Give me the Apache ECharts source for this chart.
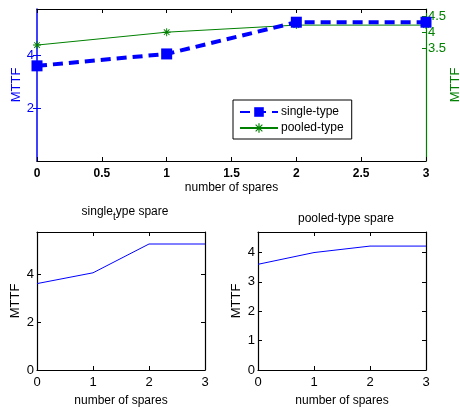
<!DOCTYPE html>
<html>
<head>
<meta charset="utf-8">
<script src="https://cdn.jsdelivr.net/npm/echarts@6/dist/echarts.min.js"></script>
<style>
  html, body { margin: 0; padding: 0; background: #fff; }
  #chart { width: 460px; height: 408px; }
</style>
</head>
<body>
<div id="chart"></div>
<script>
// Number of spares on the x axis
const spares = [0, 1, 2, 3];
// MTTF for each spare strategy
const singleType = [3.6, 4.05, 5.25, 5.25];
const pooledType = [3.6, 4.0, 4.22, 4.22];
// Tick labels
const topXTicks = [0, 0.5, 1, 1.5, 2, 2.5, 3];
const leftTicks = [2, 4];
const rightTicks = [3.5, 4, 4.5];
const singleTicks = [0, 2, 4];
const pooledTicks = [0, 1, 2, 3, 4];
const subXTicks = [0, 1, 2, 3];

const BLUE = '#0000ff';
const GREEN = '#008000';
const FONT = 'Liberation Sans, Arial, sans-serif';

const pairs = (ys) => spares.map((x, i) => [x, ys[i]]);

// asterisk marker
const ASTERISK = 'path://M-0.6,-5L0.6,-5L0.6,5L-0.6,5Z M-5,-0.6L5,-0.6L5,0.6L-5,0.6Z ' +
  'M-3.9,-3.1L-3.1,-3.9L3.9,3.1L3.1,3.9Z M3.1,-3.9L3.9,-3.1L-3.1,3.9L-3.9,3.1Z';

const chart = echarts.init(document.getElementById('chart'), null, { renderer: 'canvas' });

const tickIn = (color, vals) => ({
  show: true, inside: true, length: 4,
  lineStyle: { color: color, width: 1 },
  customValues: vals
});

const option = {
  animation: false,
  textStyle: { fontFamily: FONT },
  title: [
    {
      text: '{a|single}{b|t}{a|ype spare}',
      left: 120, top: 201, textAlign: 'center',
      textStyle: {
        fontWeight: 'normal',
        rich: {
          a: { fontSize: 12, fontWeight: 'normal', fontFamily: FONT, color: '#000', lineHeight: 16, verticalAlign: 'top' },
          b: { fontSize: 10, fontWeight: 'normal', fontFamily: FONT, color: '#000', lineHeight: 16, verticalAlign: 'bottom', padding: [10, 0, 0, 0] }
        }
      }
    },
    {
      text: 'pooled-type spare',
      left: 341, top: 208, textAlign: 'center',
      textStyle: { fontSize: 12, fontWeight: 'normal', color: '#000', fontFamily: FONT }
    }
  ],
  legend: {
    data: ['single-type', 'pooled-type'],
    orient: 'vertical',
    left: 233, top: 100,
    width: 120,
    padding: [6, 8, 5, 6],
    itemGap: 4,
    itemWidth: 38, itemHeight: 12,
    borderColor: '#000', borderWidth: 1, borderRadius: 0,
    backgroundColor: '#fff',
    textStyle: { fontSize: 12, color: '#000', fontFamily: FONT, padding: [0, 0, 0, -2] }
  },
  grid: [
    { left: 37, top: 9, width: 389, height: 152, containLabel: false, outerBoundsMode: 'none' },
    { left: 37, top: 232, width: 168, height: 138, containLabel: false, outerBoundsMode: 'none' },
    { left: 258, top: 232, width: 168, height: 138, containLabel: false, outerBoundsMode: 'none' }
  ],
  xAxis: [
    { // top chart bottom
      gridIndex: 0, type: 'value', min: 0, max: 3, interval: 0.5,
      name: 'number of spares', nameLocation: 'middle', nameGap: 21,
      nameTextStyle: { fontSize: 12, color: '#000', fontFamily: FONT },
      axisLine: { onZero: false, lineStyle: { color: '#000', width: 1.2 } },
      axisTick: { inside: true, length: 4, lineStyle: { color: '#000' } },
      axisLabel: { margin: 7, fontSize: 12, fontWeight: 'bold', color: '#000', fontFamily: FONT },
      splitLine: { show: false }
    },
    { // top chart top border
      gridIndex: 0, type: 'value', position: 'top', min: 0, max: 3, interval: 0.5,
      axisLine: { show: true, onZero: false, lineStyle: { color: '#000', width: 1.2 } },
      axisTick: { inside: true, length: 4, lineStyle: { color: '#000' } },
      axisLabel: { show: false }, splitLine: { show: false }
    },
    { // single-type subplot
      gridIndex: 1, type: 'value', min: 0, max: 3, interval: 1,
      name: 'number of spares', nameLocation: 'middle', nameGap: 25,
      nameTextStyle: { fontSize: 12, color: '#000', fontFamily: FONT },
      axisLine: { onZero: false, lineStyle: { color: '#000', width: 1.2 } },
      axisTick: { inside: true, length: 4, lineStyle: { color: '#000' } },
      axisLabel: { margin: 6, fontSize: 13, color: '#000', fontFamily: FONT },
      splitLine: { show: false }
    },
    {
      gridIndex: 1, type: 'value', position: 'top', min: 0, max: 3, interval: 1,
      axisLine: { show: true, onZero: false, lineStyle: { color: '#000', width: 1.2 } },
      axisTick: { inside: true, length: 4, lineStyle: { color: '#000' } },
      axisLabel: { show: false }, splitLine: { show: false }
    },
    { // pooled-type subplot
      gridIndex: 2, type: 'value', min: 0, max: 3, interval: 1,
      name: 'number of spares', nameLocation: 'middle', nameGap: 25,
      nameTextStyle: { fontSize: 12, color: '#000', fontFamily: FONT },
      axisLine: { onZero: false, lineStyle: { color: '#000', width: 1.2 } },
      axisTick: { inside: true, length: 4, lineStyle: { color: '#000' } },
      axisLabel: { margin: 6, fontSize: 13, color: '#000', fontFamily: FONT },
      splitLine: { show: false }
    },
    {
      gridIndex: 2, type: 'value', position: 'top', min: 0, max: 3, interval: 1,
      axisLine: { show: true, onZero: false, lineStyle: { color: '#000', width: 1.2 } },
      axisTick: { inside: true, length: 4, lineStyle: { color: '#000' } },
      axisLabel: { show: false }, splitLine: { show: false }
    }
  ],
  yAxis: [
    { // 0: top chart left (single-type)
      gridIndex: 0, type: 'value', position: 'left', min: 0, max: 5.75,
      name: 'MTTF', nameLocation: 'middle', nameGap: 14, nameRotate: 90, nameMoveOverlap: false,
      nameTextStyle: { fontSize: 13, color: BLUE, fontFamily: FONT },
      axisLine: { show: true, onZero: false, lineStyle: { color: BLUE, width: 1.5 } },
      axisTick: tickIn(BLUE, leftTicks),
      axisLabel: { customValues: leftTicks, margin: 3, fontSize: 13, color: BLUE, fontFamily: FONT },
      splitLine: { show: false }
    },
    { // 1: top chart right (pooled-type)
      gridIndex: 0, type: 'value', position: 'right', min: 0, max: 4.72,
      name: 'MTTF', nameLocation: 'middle', nameGap: 23, nameRotate: 90, nameMoveOverlap: false,
      nameTextStyle: { fontSize: 13, color: GREEN, fontFamily: FONT },
      axisLine: { show: true, onZero: false, lineStyle: { color: GREEN, width: 1.2 } },
      axisTick: tickIn(GREEN, rightTicks),
      axisLabel: { customValues: rightTicks, margin: 2, fontSize: 13, color: GREEN, fontFamily: FONT },
      splitLine: { show: false }
    },
    { // 2: left-scale ticks mirrored on the right edge
      gridIndex: 0, type: 'value', position: 'right', offset: 0, min: 0, max: 5.75,
      axisLine: { show: false },
      axisTick: tickIn(BLUE, leftTicks),
      axisLabel: { show: false }, splitLine: { show: false }
    },
    { // 3: single-type subplot
      gridIndex: 1, type: 'value', min: 0, max: 5.75,
      name: 'MTTF', nameLocation: 'middle', nameGap: 15, nameRotate: 90,
      nameTextStyle: { fontSize: 13, color: '#000', fontFamily: FONT },
      axisLine: { show: true, onZero: false, lineStyle: { color: '#000', width: 1.2 } },
      axisTick: tickIn('#000', singleTicks),
      axisLabel: { customValues: singleTicks, margin: 3, fontSize: 13, color: '#000', fontFamily: FONT },
      splitLine: { show: false }
    },
    { // 4
      gridIndex: 1, type: 'value', position: 'right', min: 0, max: 5.75,
      axisLine: { show: true, onZero: false, lineStyle: { color: '#000', width: 1.2 } },
      axisTick: tickIn('#000', singleTicks),
      axisLabel: { show: false }, splitLine: { show: false }
    },
    { // 5: pooled-type subplot
      gridIndex: 2, type: 'value', min: 0, max: 4.7,
      name: 'MTTF', nameLocation: 'middle', nameGap: 15, nameRotate: 90,
      nameTextStyle: { fontSize: 13, color: '#000', fontFamily: FONT },
      axisLine: { show: true, onZero: false, lineStyle: { color: '#000', width: 1.2 } },
      axisTick: tickIn('#000', pooledTicks),
      axisLabel: { customValues: pooledTicks, margin: 3, fontSize: 13, color: '#000', fontFamily: FONT },
      splitLine: { show: false }
    },
    { // 6
      gridIndex: 2, type: 'value', position: 'right', min: 0, max: 4.7,
      axisLine: { show: true, onZero: false, lineStyle: { color: '#000', width: 1.2 } },
      axisTick: tickIn('#000', pooledTicks),
      axisLabel: { show: false }, splitLine: { show: false }
    }
  ],
  series: [
    {
      name: 'pooled-type', type: 'line', xAxisIndex: 0, yAxisIndex: 1,
      data: pairs(pooledType),
      symbol: ASTERISK, symbolSize: 8, showAllSymbol: true,
      itemStyle: { color: GREEN },
      lineStyle: { color: GREEN, width: 1 },
      z: 2
    },
    {
      name: 'single-type', type: 'line', xAxisIndex: 0, yAxisIndex: 0,
      data: pairs(singleType),
      symbol: 'rect', symbolSize: 11, showAllSymbol: true,
      itemStyle: { color: BLUE },
      lineStyle: { color: BLUE, width: 4, type: [10, 6] },
      z: 3
    },
    {
      name: 'single', type: 'line', xAxisIndex: 2, yAxisIndex: 3,
      data: pairs(singleType), symbol: 'none',
      lineStyle: { color: BLUE, width: 1 }
    },
    {
      name: 'pooled', type: 'line', xAxisIndex: 4, yAxisIndex: 5,
      data: pairs(pooledType), symbol: 'none',
      lineStyle: { color: BLUE, width: 1 }
    }
  ]
};

chart.setOption(option);
</script>
</body>
</html>
